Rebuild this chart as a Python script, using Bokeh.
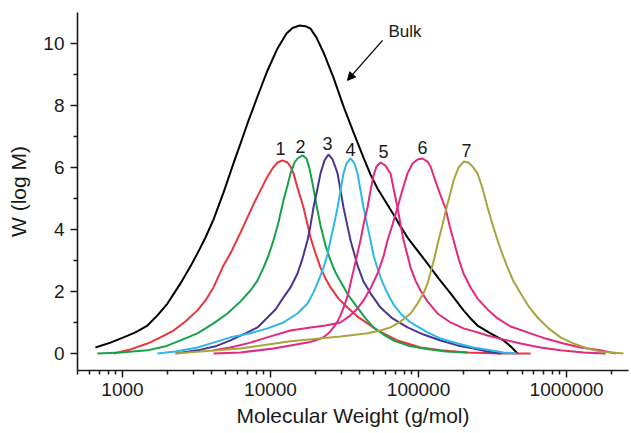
from bokeh.plotting import figure
from bokeh.models import FixedTicker, Arrow, NormalHead, Label
from bokeh.embed import file_html
from bokeh.resources import INLINE

# ---- data ----
bulk_m = [657, 830, 1016, 1224, 1475, 1724, 2014, 2466, 2881, 3212, 3638, 4120, 4814, 5623,
          6270, 6990, 8170, 9544, 11150, 12828, 14082, 15703, 17240, 18634, 20453, 22807,
          26644, 31130, 36371, 42494, 47392, 52846, 59842, 67783, 75577, 84278, 98446,
          115036, 136530, 164550, 201440, 224580, 250370, 306560, 375270, 418500, 466670]
bulk_w = [0.19, 0.35, 0.52, 0.68, 0.90, 1.23, 1.61, 2.26, 2.81, 3.23, 3.74, 4.32, 5.19, 6.13,
          6.77, 7.42, 8.29, 9.13, 9.84, 10.32, 10.50, 10.58, 10.56, 10.48, 10.19, 9.71,
          8.90, 7.97, 7.13, 6.32, 5.77, 5.32, 4.90, 4.48, 4.10, 3.74, 3.32,
          2.90, 2.42, 1.94, 1.39, 1.13, 0.90, 0.65, 0.42, 0.23, 0.0]

f1_m = [869, 1133, 1475, 1806, 2211, 2665, 3212, 3638, 4120, 4814, 5366, 6270, 6990, 7676,
        8557, 9397, 10316, 11150, 12053, 13030, 13653, 14302, 15222, 15950, 16711, 17783,
        18634, 20140, 21766, 23530, 25429, 28810, 33134, 38706, 45228, 52846, 61733, 72137,
        84278, 103156, 140840, 214330, 358200, 571200]
f1_w = [0.0, 0.13, 0.32, 0.52, 0.74, 1.03, 1.39, 1.71, 2.13, 2.84, 3.23, 3.90, 4.39, 4.81,
        5.26, 5.65, 5.97, 6.16, 6.23, 6.16, 6.03, 5.81, 5.35, 5.03, 4.71, 4.16,
        3.74, 3.23, 2.77, 2.42, 2.13, 1.77, 1.48, 1.19, 0.97, 0.74, 0.58, 0.42,
        0.32, 0.19, 0.10, 0.03, 0.0, 0.0]

f2_m = [677, 969, 1475, 1952, 2466, 3212, 4120, 5124, 6270, 7323, 8170, 8970, 9694, 10478,
        11326, 12241, 13030, 13653, 14532, 15222, 16451, 17511, 18342, 19520, 20780, 21766,
        23530, 25429, 27500, 29717, 33650, 38706, 43850, 49656, 58011, 67783, 84278, 108100,
        152210, 214330]
f2_w = [0.0, 0.03, 0.10, 0.23, 0.42, 0.65, 0.97, 1.29, 1.68, 2.03, 2.35, 2.77, 3.16, 3.65,
        4.23, 4.94, 5.42, 5.81, 6.16, 6.29, 6.39, 6.29, 5.97, 5.32, 4.61, 4.13,
        3.48, 3.00, 2.61, 2.32, 1.87, 1.48, 1.13, 0.84, 0.61, 0.42, 0.26, 0.16,
        0.06, 0.03]

f3_m = [2281, 3212, 4250, 5366, 6780, 8170, 9544, 10810, 12241, 13653, 15222, 16451, 17783,
        18634, 19520, 20780, 21766, 23170, 24653, 26240, 27500, 28374, 29717, 31130, 33134,
        34712, 38706, 42494, 47392, 55374, 66730, 84278, 108100, 140840, 183460, 235300,
        292590, 358200]
f3_w = [0.0, 0.10, 0.23, 0.42, 0.65, 0.84, 1.16, 1.42, 1.81, 2.13, 2.58, 3.06, 3.65,
        4.13, 4.71, 5.32, 5.81, 6.23, 6.42, 6.26, 6.00, 5.81, 5.26, 4.71, 4.10,
        3.65, 2.84, 2.32, 1.94, 1.48, 1.13, 0.84, 0.61, 0.42, 0.26, 0.16,
        0.06, 0.0]

f4_m = [1724, 2281, 3212, 4120, 5366, 7323, 9544, 12241, 15222, 17783, 19520, 21100, 22807,
        24270, 25429, 27070, 28374, 29717, 31130, 32620, 34712, 36940, 38706, 40556, 42494,
        45228, 47392, 49656, 52846, 57120, 61733, 67783, 75577, 88301, 115036, 140840,
        183460, 235300, 306560, 375270, 459400]
f4_w = [0.0, 0.06, 0.19, 0.35, 0.52, 0.65, 0.81, 1.00, 1.29, 1.61, 1.97, 2.35, 2.77,
        3.19, 3.65, 4.23, 4.71, 5.26, 5.81, 6.13, 6.29, 6.13, 5.81, 5.26, 4.71,
        4.10, 3.65, 3.16, 2.74, 2.29, 1.94, 1.58, 1.29, 1.00, 0.68, 0.48,
        0.32, 0.19, 0.10, 0.03, 0.0]

f5_m = [4120, 6270, 10478, 13653, 17783, 20140, 22807, 24653, 26644, 28374, 29717, 31130,
        33134, 34712, 36371, 38706, 40556, 42494, 45228, 47392, 49656, 52030, 55374, 59842,
        62700, 64693, 67783, 72137, 75577, 79183, 84278, 88301, 95440, 103156, 115036,
        134300, 164550, 201440, 250370, 292590, 375270, 489090, 667100, 911070, 1303000,
        1834000]
f5_w = [0.0, 0.03, 0.16, 0.26, 0.35, 0.42, 0.52, 0.65, 0.84, 1.03, 1.23, 1.48,
        1.84, 2.26, 2.68, 3.23, 3.65, 4.16, 4.71, 5.26, 5.74, 6.03, 6.16, 6.06,
        5.90, 5.81, 5.32, 4.71, 4.16, 3.65, 3.16, 2.77, 2.35, 2.03, 1.68,
        1.29, 1.00, 0.81, 0.68, 0.58, 0.45, 0.32, 0.19, 0.10, 0.03,
        0.0]

f6_m = [4120, 5366, 7323, 10000, 13653, 18634, 23530, 29717, 34712, 38706, 42494, 47392,
        52846, 58011, 61733, 66730, 72137, 77970, 84278, 91100, 98446, 106407, 115036, 120530,
        126290, 138700, 152210, 162000, 172440, 186330, 201440, 224580, 250370, 292590,
        341930, 418500, 545160, 721450, 954300, 1243000, 1697000, 2143000]
f6_w = [0.10, 0.19, 0.35, 0.55, 0.74, 0.84, 0.90, 1.00, 1.23, 1.45, 1.71, 2.10,
        2.58, 3.13, 3.65, 4.16, 4.71, 5.29, 5.81, 6.13, 6.26, 6.29, 6.19, 6.03,
        5.74, 5.19, 4.68, 4.13, 3.65, 3.06, 2.58, 2.13, 1.77, 1.42,
        1.13, 0.87, 0.68, 0.48, 0.32, 0.19, 0.10, 0.0]

f7_m = [2281, 3365, 6270, 13653, 29717, 45228, 55374, 64693, 75577, 88301, 98446, 108100,
        115036, 120530, 128300, 136530, 145300, 154600, 164550, 172440, 186330, 201440,
        217700, 231700, 250370, 270700, 292590, 316200, 341930, 369500, 399440, 438500,
        489090, 553700, 636960, 755800, 911070, 1115000, 1387000, 1697000, 2427000]
f7_w = [0.0, 0.06, 0.16, 0.39, 0.55, 0.65, 0.74, 0.84, 1.03, 1.29, 1.61, 1.94,
        2.26, 2.61, 3.10, 3.65, 4.16, 4.71, 5.19, 5.58, 6.00, 6.19,
        6.16, 6.03, 5.81, 5.32, 4.71, 4.16, 3.65, 3.19, 2.77, 2.32,
        1.94, 1.52, 1.16, 0.81, 0.52, 0.32, 0.16, 0.06, 0.0]

fraction_labels = ["1", "2", "3", "4", "5", "6", "7"]
label_m = [11690, 15950, 24270, 34750, 58000, 106400, 211000]
label_w = [6.61, 6.68, 6.77, 6.58, 6.52, 6.65, 6.55]

bulk_text = "Bulk"
bulk_text_pos = (62700, 10.39)
arrow_start = (57150, 10.10)
arrow_end = (33100, 8.81)

x_major = [1000, 10000, 100000, 1000000]
x_major_labels = ["1000", "10000", "100000", "1000000"]
x_minor = [500, 600, 700, 800, 900,
           2000, 3000, 4000, 5000, 6000, 7000, 8000, 9000,
           20000, 30000, 40000, 50000, 60000, 70000, 80000, 90000,
           200000, 300000, 400000, 500000, 600000, 700000, 800000, 900000,
           2000000]
y_major = [0, 2, 4, 6, 8, 10]
y_minor = [1, 3, 5, 7, 9]

colors = ["#e8343c", "#16a24a", "#4b3592", "#2cb8ea", "#e2287f", "#e2287f", "#a8a53c"]

FONT = "Liberation Sans"

p = figure(width=631, height=433, x_axis_type="log",
           x_range=(497, 2.62e6), y_range=(-0.55, 11.0),
           output_backend="svg", toolbar_location=None,
           min_border_left=77, min_border_right=3, min_border_top=12, min_border_bottom=63)
p.outline_line_color = None
p.xgrid.visible = False
p.ygrid.visible = False
p.background_fill_color = "white"
p.border_fill_color = "white"

p.line(bulk_m, bulk_w, line_color="black", line_width=2)
series = [(f1_m, f1_w), (f2_m, f2_w), (f3_m, f3_w), (f4_m, f4_w),
          (f5_m, f5_w), (f6_m, f6_w), (f7_m, f7_w)]
for (xs, ys), c in zip(series, colors):
    p.line(xs, ys, line_color=c, line_width=2)

for t, xm, yw in zip(fraction_labels, label_m, label_w):
    p.add_layout(Label(x=xm, y=yw, text=t, text_align="center", text_baseline="middle",
                       text_font=FONT, text_font_size="18px", text_color="#1a1a1a"))

p.add_layout(Label(x=bulk_text_pos[0], y=bulk_text_pos[1], text=bulk_text, text_align="left",
                   text_baseline="middle", text_font=FONT, text_font_size="17px",
                   text_color="#1a1a1a"))
p.add_layout(Arrow(x_start=arrow_start[0], y_start=arrow_start[1],
                   x_end=arrow_end[0], y_end=arrow_end[1], line_width=1.3,
                   end=NormalHead(size=8, fill_color="black", line_color="black")))

xa = p.xaxis[0]
xa.ticker = FixedTicker(ticks=x_major, minor_ticks=x_minor)
xa.major_label_overrides = {float(v): s for v, s in zip(x_major, x_major_labels)}
ya = p.yaxis[0]
ya.ticker = FixedTicker(ticks=y_major, minor_ticks=y_minor)

for ax in (xa, ya):
    ax.axis_line_width = 1.6
    ax.axis_line_color = "#1a1a1a"
    ax.major_tick_in = 0
    ax.major_tick_out = 7
    ax.minor_tick_in = 0
    ax.minor_tick_out = 4
    ax.major_tick_line_width = 1.5
    ax.minor_tick_line_width = 1.5
    ax.major_tick_line_color = "#1a1a1a"
    ax.minor_tick_line_color = "#1a1a1a"
    ax.major_label_text_font = FONT
    ax.major_label_text_font_size = "19px"
    ax.major_label_text_color = "#1a1a1a"
    ax.axis_label_text_font = FONT
    ax.axis_label_text_font_size = "21px"
    ax.axis_label_text_font_style = "normal"
    ax.axis_label_text_color = "#1a1a1a"

xa.axis_label = "Molecular Weight (g/mol)"
ya.axis_label = "W (log M)"
xa.major_label_standoff = 5
ya.major_label_standoff = 6
xa.axis_label_standoff = 5
ya.axis_label_standoff = 10

open("out.html", "w").write(file_html(p, INLINE))
